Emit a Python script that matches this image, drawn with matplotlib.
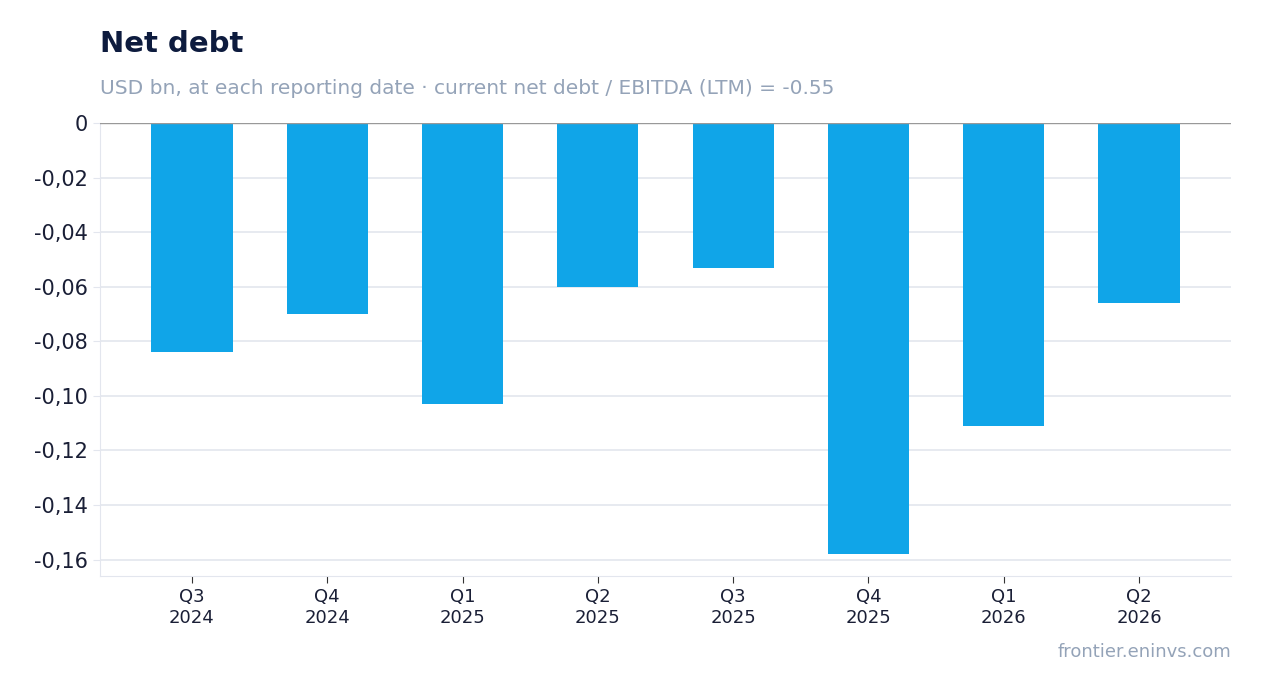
import matplotlib
matplotlib.use("Agg")
import matplotlib.pyplot as plt
from matplotlib.ticker import FuncFormatter

categories = ["Q3\n2024", "Q4\n2024", "Q1\n2025", "Q2\n2025", "Q3\n2025", "Q4\n2025", "Q1\n2026", "Q2\n2026"]
values = [-0.084, -0.070, -0.103, -0.060, -0.053, -0.158, -0.111, -0.066]
yticks = [0, -0.02, -0.04, -0.06, -0.08, -0.10, -0.12, -0.14, -0.16]

fig = plt.figure(figsize=(12.62, 6.93), dpi=100)
ax = fig.add_axes([100/1262, 1-576/693, 1131/1262, 453/693])
x = range(len(categories))
ax.bar(x, values, width=0.6, color="#10a5e8", zorder=2)
ax.set_xlim(-0.68, 7.68)
ax.set_ylim(-0.166, 0)
ax.set_yticks(yticks)
def fmt(v, p):
    if abs(v) < 1e-9:
        return "0"
    return f"{v:.2f}".replace(".", ",")
ax.yaxis.set_major_formatter(FuncFormatter(fmt))
ax.set_xticks(list(x))
ax.set_xticklabels(categories, fontsize=13, color="#1a1f36")
ax.tick_params(axis="y", labelsize=15, colors="#1a1f36", length=5, color="#e3e6ee")
ax.tick_params(axis="x", length=5, color="#333333")
ax.grid(axis="y", color="#e3e6ee", linewidth=1.2, zorder=0)
for s in ["top", "right"]:
    ax.spines[s].set_visible(False)
ax.spines["left"].set_color("#e3e6ee")
ax.spines["bottom"].set_color("#e3e6ee")
ax.axhline(0, color="#999999", linewidth=1, zorder=3)

fig.text(100/1262, 1-44/693, "Net debt", fontsize=21, fontweight="bold", color="#0d1b3e", va="center")
fig.text(100/1262, 1-88/693, "USD bn, at each reporting date · current net debt / EBITDA (LTM) = -0.55",
         fontsize=14.5, color="#94a3b8", va="center")
fig.text(1231/1262, 1-652/693, "frontier.eninvs.com", fontsize=13, color="#94a3b8", va="center", ha="right")
fig.savefig("out.png", dpi=100)
